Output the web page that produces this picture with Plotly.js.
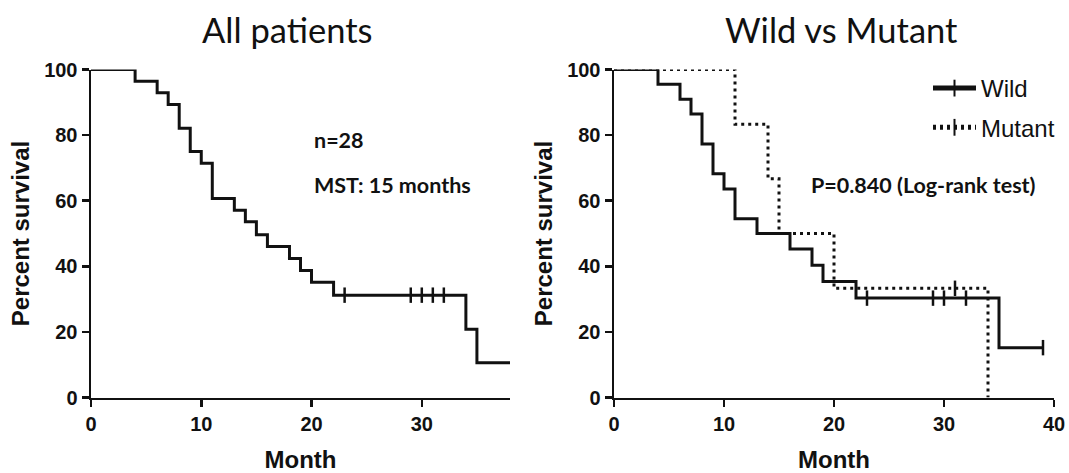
<!DOCTYPE html>
<html>
<head>
<meta charset="utf-8">
<script src="https://cdn.plot.ly/plotly-3.0.1.min.js"></script>
<style>html,body{margin:0;padding:0;background:#fff;}#chart{width:1069px;height:473px;}</style>
</head>
<body>
<div id="chart"></div>
<script>
// ---- Data (Kaplan-Meier step points) ----
var allTime = [0, 4, 6, 7, 8, 9, 10, 11, 13, 14, 15, 16, 18, 19, 20, 22, 23, 29, 30, 31, 32, 34, 35, 38];
var allSurv = [100, 96.4, 92.9, 89.3, 82.1, 75.0, 71.4, 60.7, 57.1, 53.6, 49.6, 46.0, 42.4, 38.7, 35.1, 31.2, 31.2, 31.2, 31.2, 31.2, 31.2, 20.8, 10.6, 10.6];
var allCens = [0, 0, 0, 0, 0, 0, 0, 0, 0, 0, 0, 0, 0, 0, 0, 0, 1, 1, 1, 1, 1, 0, 0, 0];

var wildTime = [0, 4, 6, 7, 8, 9, 10, 11, 13, 16, 18, 19, 22, 23, 29, 30, 32, 35, 39];
var wildSurv = [100, 95.5, 90.9, 86.4, 77.3, 68.2, 63.6, 54.5, 50.0, 45.3, 40.3, 35.4, 30.3, 30.3, 30.3, 30.3, 30.3, 15.2, 15.2];
var wildCens = [0, 0, 0, 0, 0, 0, 0, 0, 0, 0, 0, 0, 0, 1, 1, 1, 1, 0, 1];

var mutTime = [0, 11, 14, 15, 20, 31, 34];
var mutSurv = [100, 83.3, 66.7, 50.0, 33.3, 33.3, 0];
var mutCens = [0, 0, 0, 0, 0, 1, 0];

var yTicks = [0, 20, 40, 60, 80, 100];
var xTicksLeft = [0, 10, 20, 30];
var xTicksRight = [0, 10, 20, 30, 40];

var panelTitles = ['All patients', 'Wild vs Mutant'];
var seriesNames = ['Wild', 'Mutant'];
var notes = ['n=28', 'MST: 15 months', 'P=0.840 (Log-rank test)'];

function censorSizes(c) { return c.map(function (v) { return v ? 11 : 0; }); }

function kmTrace(t, s, c, name, xa, ya, dash, showLeg, grp) {
  return {
    type: 'scatter', mode: 'lines+markers', x: t, y: s, name: name,
    xaxis: xa, yaxis: ya, showlegend: showLeg, cliponaxis: false, legendgroup: grp,
    line: {shape: 'hv', color: '#111', width: 3, dash: dash},
    marker: {symbol: 'line-ns-open', size: censorSizes(c), color: '#111', opacity: 1,
             line: {color: '#111', width: 2.5}},
    hoverinfo: 'x+y'
  };
}

var data = [
  kmTrace(allTime, allSurv, allCens, 'All', 'x', 'y', 'solid', false, 'a'),
  kmTrace(wildTime, wildSurv, wildCens, seriesNames[0], 'x2', 'y2', 'solid', true, 'w'),
  kmTrace(mutTime, mutSurv, mutCens, seriesNames[1], 'x2', 'y2', '3px,4px', true, 'm')
];

var W = 1069, H = 473;
function px(x) { return x / W; }
function py(y) { return (H - y) / H; }

var tickFont = {family: 'Liberation Sans, Arial, sans-serif', size: 20, color: '#111', weight: 'bold'};
var axTitleFont = {family: 'Liberation Sans, Arial, sans-serif', size: 24, color: '#111', weight: 'bold'};

function xAxis(domain, range, ticks, anchor) {
  return {
    domain: domain, range: range, anchor: anchor, tickvals: ticks,
    showline: true, linecolor: '#111', linewidth: 2.5,
    ticks: 'outside', ticklen: 7, tickwidth: 2.5, tickcolor: '#111',
    showgrid: false, zeroline: false, tickfont: tickFont,
    title: {text: 'Month', font: axTitleFont, standoff: 17}
  };
}
function yAxis(domain, anchor) {
  return {
    domain: domain, range: [0, 100], anchor: anchor, tickvals: yTicks,
    showline: true, linecolor: '#111', linewidth: 2.5,
    ticks: 'outside', ticklen: 7, tickwidth: 2.5, tickcolor: '#111',
    showgrid: false, zeroline: false, tickfont: tickFont,
    title: {text: 'Percent survival', font: axTitleFont, standoff: 8}
  };
}

var yDom = [py(397.5), py(69.5)];
var noteFont = {family: 'Lato, Open Sans, sans-serif', size: 21.5, color: '#111', weight: 'bold'};
var titleFont = {family: 'Lato, Open Sans, sans-serif', size: 34.5, color: '#111'};
var layout = {
  width: W, height: H,
  margin: {l: 0, r: 0, t: 0, b: 0},
  paper_bgcolor: '#fff', plot_bgcolor: '#fff',
  xaxis: xAxis([px(91), px(510)], [0, 38], xTicksLeft, 'y'),
  yaxis: yAxis(yDom, 'x'),
  xaxis2: xAxis([px(614), px(1054)], [0, 40], xTicksRight, 'y2'),
  yaxis2: yAxis(yDom, 'x2'),
  showlegend: true,
  legend: {
    x: px(928), y: py(66), xanchor: 'left', yanchor: 'top',
    bgcolor: 'rgba(0,0,0,0)', itemsizing: 'constant', itemwidth: 43,
    traceorder: 'grouped', tracegroupgap: 5,
    font: {family: 'Liberation Sans Narrow, Liberation Sans, Arial, sans-serif', size: 24, color: '#111'}
  },
  annotations: [
    {text: panelTitles[0], xref: 'paper', yref: 'paper', x: px(287), y: py(29), xanchor: 'center', yanchor: 'middle', showarrow: false, font: titleFont},
    {text: panelTitles[1], xref: 'paper', yref: 'paper', x: px(841), y: py(29), xanchor: 'center', yanchor: 'middle', showarrow: false, font: titleFont},
    {text: notes[0], xref: 'paper', yref: 'paper', x: px(312), y: py(140), xanchor: 'left', yanchor: 'middle', showarrow: false, font: noteFont},
    {text: notes[1], xref: 'paper', yref: 'paper', x: px(312), y: py(185), xanchor: 'left', yanchor: 'middle', showarrow: false, font: noteFont},
    {text: notes[2], xref: 'paper', yref: 'paper', x: px(809), y: py(185), xanchor: 'left', yanchor: 'middle', showarrow: false, font: noteFont}
  ]
};

Plotly.newPlot('chart', data, layout, {displayModeBar: false, staticPlot: true});
</script>
</body>
</html>
